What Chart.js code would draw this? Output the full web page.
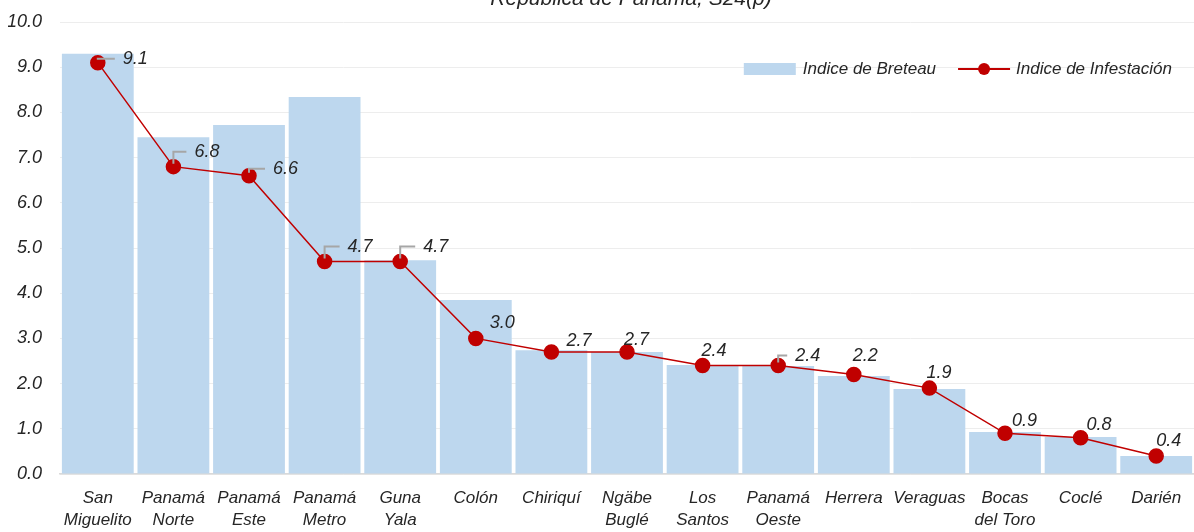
<!DOCTYPE html>
<html>
<head>
<meta charset="utf-8">
<script src="https://cdn.jsdelivr.net/npm/chart.js@4/dist/chart.umd.min.js"></script>
<style>
  html, body { margin: 0; background: #fff; overflow: hidden; }
  #wrap { width: 1194px; height: 532px; position: relative; }
  #indiceChart { display: block; }
</style>
</head>
<body>
<div id="wrap"><canvas id="indiceChart"></canvas></div>
<script>
var categorias = [
  ["San", "Miguelito"], ["Panamá", "Norte"], ["Panamá", "Este"], ["Panamá", "Metro"],
  ["Guna", "Yala"], "Colón", "Chiriquí", ["Ngäbe", "Buglé"], ["Los", "Santos"],
  ["Panamá", "Oeste"], "Herrera", "Veraguas", ["Bocas", "del Toro"], "Coclé", "Darién"
];
var indiceBreteau = [9.3, 7.45, 7.72, 8.34, 4.73, 3.85, 2.74, 2.7, 2.41, 2.39, 2.17, 1.88, 0.93, 0.82, 0.4];
var indiceInfestacion = [9.1, 6.8, 6.6, 4.7, 4.7, 3.0, 2.7, 2.7, 2.4, 2.4, 2.2, 1.9, 0.9, 0.8, 0.4];
var ticksY = [0, 1, 2, 3, 4, 5, 6, 7, 8, 9, 10];
var titulo = "República de Panamá, S24(p)";

var FUENTE = "'Liberation Sans Narrow', 'Arial Narrow', 'Liberation Sans', sans-serif";

// label placement next to each red point (dx to text left, dy to text middle, leader line)
var etiquetas = {
  id: 'etiquetas',
  afterDatasetsDraw: function(chart) {
    var pos = [[25,-4,1],[21,-15,1],[24,-7,1],[23,-15,1],[23,-15,1],[14,-15,0],[15,-11,0],
               [-3,-12,0],[-1,-15,0],[17,-10,1],[-1,-19,0],[-3,-15,0],[7,-12,0],[6,-13,0],[0,-15,0]];
    var meta = chart.getDatasetMeta(1);
    var ctx = chart.ctx;
    ctx.save();
    ctx.font = "italic 18px " + FUENTE;
    ctx.textBaseline = 'middle';
    ctx.textAlign = 'left';
    meta.data.forEach(function(pt, i) {
      var p = pos[i];
      var lx = pt.x + p[0], ly = pt.y + p[1];
      if (p[2]) {
        ctx.strokeStyle = '#A6A6A6';
        ctx.lineWidth = 2;
        ctx.beginPath();
        ctx.moveTo(pt.x, pt.y - 3);
        ctx.lineTo(pt.x, ly);
        ctx.lineTo(lx - 8, ly);
        ctx.stroke();
      }
      ctx.fillStyle = '#262626';
      ctx.fillText(indiceInfestacion[i].toFixed(1), lx, ly);
    });
    ctx.restore();
  }
};

var leyendaYTitulo = {
  id: 'leyendaYTitulo',
  afterDraw: function(chart) {
    var ctx = chart.ctx, area = chart.chartArea;
    ctx.save();
    ctx.font = "italic 21px " + FUENTE;
    ctx.fillStyle = '#262626';
    ctx.textAlign = 'center';
    ctx.textBaseline = 'alphabetic';
    ctx.fillText(titulo, 631, 5);

    var ds = chart.data.datasets;
    ctx.font = "italic 17px " + FUENTE;
    ctx.textBaseline = 'middle';
    ctx.textAlign = 'left';
    var y = 69;
    var t2 = ds[1].label, t1 = ds[0].label;
    var w2 = ctx.measureText(t2).width, w1 = ctx.measureText(t1).width;
    var x2 = area.right - 22 - w2;
    ctx.fillText(t2, x2, y);
    var lineEnd = x2 - 6, lineStart = lineEnd - 52;
    ctx.strokeStyle = '#C00000';
    ctx.lineWidth = 2;
    ctx.beginPath();
    ctx.moveTo(lineStart, y);
    ctx.lineTo(lineEnd, y);
    ctx.stroke();
    ctx.fillStyle = '#C00000';
    ctx.beginPath();
    ctx.arc((lineStart + lineEnd) / 2, y, 6, 0, Math.PI * 2);
    ctx.fill();
    var x1 = lineStart - 22 - w1;
    ctx.fillStyle = '#262626';
    ctx.fillText(t1, x1, y);
    ctx.fillStyle = '#BDD7EE';
    ctx.fillRect(x1 - 7 - 52, y - 6, 52, 12);
    ctx.restore();
  }
};

var ctxI = document.getElementById("indiceChart").getContext('2d');
var indiceChart = new Chart(ctxI, {
  type: 'bar',
  data: {
    labels: categorias,
    datasets: [{
      type: 'bar',
      label: "Indice de Breteau",
      data: indiceBreteau,
      backgroundColor: '#BDD7EE',
      barPercentage: 0.95,
      categoryPercentage: 1.0,
      order: 2
    },
    {
      type: 'line',
      label: "Indice de Infestación",
      data: indiceInfestacion,
      borderColor: '#C00000',
      backgroundColor: '#C00000',
      borderWidth: 1.5,
      pointRadius: 7,
      pointHoverRadius: 7,
      pointBackgroundColor: '#C00000',
      pointBorderColor: '#C00000',
      tension: 0,
      order: 1
    }]
  },
  options: {
    responsive: true,
    maintainAspectRatio: false,
    animation: false,
    layout: { autoPadding: false, padding: { top: 22, left: 8, right: 0, bottom: 0 } },
    plugins: {
      legend: { display: false },
      tooltip: { enabled: false }
    },
    scales: {
      x: {
        grid: { display: false },
        border: { color: '#D9D9D9', width: 1.5 },
        afterFit: function(axis) {
          axis.height = 58;
          axis.paddingLeft = 0;
          axis.paddingRight = 0;
        },
        ticks: {
          color: '#262626',
          font: { family: FUENTE, size: 17, style: 'italic', lineHeight: 1.3 },
          maxRotation: 0,
          autoSkip: false,
          padding: 5
        }
      },
      y: {
        min: 0,
        max: 10,
        afterBuildTicks: function(axis) {
          axis.ticks = ticksY.map(function(v) { return { value: v }; });
        },
        afterFit: function(axis) {
          axis.width = 52;
          axis.paddingTop = 0;
          axis.paddingBottom = 0;
        },
        grid: { color: '#EDEDED', drawTicks: false },
        border: { display: false },
        ticks: {
          color: '#262626',
          font: { family: FUENTE, size: 18, style: 'italic' },
          padding: 18,
          callback: function(v) { return Number(v).toFixed(1); }
        }
      }
    }
  },
  plugins: [etiquetas, leyendaYTitulo]
});
</script>
</body>
</html>
